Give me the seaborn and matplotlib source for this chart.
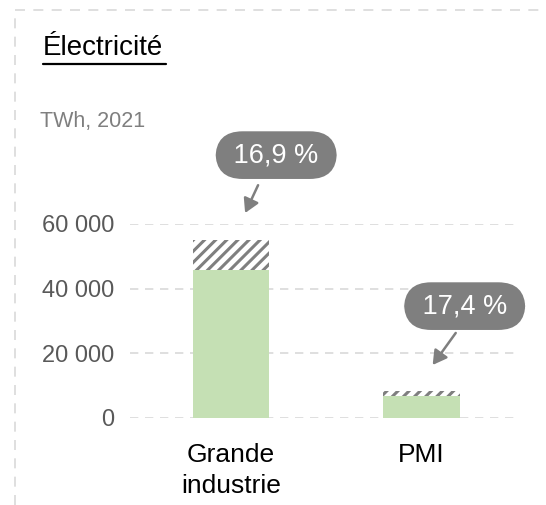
import matplotlib
matplotlib.use("Agg")
import matplotlib.pyplot as plt
import seaborn as sns
import pandas as pd
from matplotlib.lines import Line2D

# données (TWh, 2021)
categories = ["Grande\nindustrie", "PMI"]
totals = [55000, 8300]
savings = [9300, 1450]
shares = ["16,9 %", "17,4 %"]
yticks = [0, 20000, 40000, 60000]
ytick_labels = ["0", "20 000", "40 000", "60 000"]

base = [t - s for t, s in zip(totals, savings)]
df = pd.DataFrame({"cat": categories, "total": totals, "base": base})

sns.set_theme(style="white")
plt.rcParams["font.family"] = ["Liberation Sans", "DejaVu Sans"]
plt.rcParams["hatch.linewidth"] = 2.2

fig = plt.figure(figsize=(5.46, 5.05), dpi=100)
ax = fig.add_axes([130 / 546, 1 - 418 / 505, 385 / 546, 194 / 505])

# partie hachurée (total) puis partie verte
sns.barplot(data=df, x="cat", y="total", ax=ax, color="white", width=0.4,
            hatch="///", edgecolor="#7f7f7f", linewidth=0, zorder=2)
sns.barplot(data=df, x="cat", y="base", ax=ax, color="#c5e0b4", width=0.4,
            linewidth=0, saturation=1, zorder=3)

ax.set_xlim(-0.53, 1.49)
ax.set_ylim(0, 60000)
ax.set_yticks(yticks)
ax.set_yticklabels(ytick_labels, color="#595959", fontsize=17)
ax.tick_params(axis="y", length=0, pad=11)
ax.tick_params(axis="x", length=0, pad=18)
ax.set_xticklabels(categories, fontsize=19, color="black", linespacing=1.35)
ax.set_xlabel("")
ax.set_ylabel("")
for s in ax.spines.values():
    s.set_visible(False)
ax.yaxis.grid(True, color="#d9d9d9", linestyle=(0, (5, 4)), linewidth=1.2, zorder=0)
ax.set_axisbelow(True)

# bulles de pourcentage avec flèches
bubble_pos = [(0.237, 81300), (1.226, 34600)]
arrow_start = [(0.142, 72000), (1.179, 26300)]
arrow_end = [(0.074, 63400), (1.058, 16400)]
for i in range(2):
    ax.text(bubble_pos[i][0], bubble_pos[i][1], " " + shares[i] + " ", ha="center",
            va="center", fontsize=19.5, color="white", clip_on=False, zorder=5,
            bbox=dict(boxstyle="round,pad=0.4,rounding_size=1.0", fc="#7f7f7f", ec="none"))
    ax.annotate("", xy=arrow_end[i], xytext=arrow_start[i], annotation_clip=False,
                arrowprops=dict(arrowstyle="-|>,head_length=0.7,head_width=0.4",
                                color="#7f7f7f", lw=1.8, shrinkA=0, shrinkB=0))

# titre et unité
fig.text(43 / 546, 1 - 48 / 505, "Électricité", fontsize=20, color="black",
         va="center", ha="left")
fig.add_artist(Line2D([43 / 546, 166 / 546], [1 - 64 / 505, 1 - 64 / 505],
                      color="black", lw=1.6))
fig.text(40 / 546, 1 - 122 / 505, "TWh, 2021", fontsize=15.5, color="#7f7f7f",
         va="center", ha="left")

# bordure pointillée
fig.add_artist(Line2D([15 / 546, 1], [1 - 10 / 505, 1 - 10 / 505],
                      color="#d9d9d9", lw=1.2, linestyle=(0, (6, 5))))
fig.add_artist(Line2D([15 / 546, 15 / 546], [0, 1 - 10 / 505],
                      color="#d9d9d9", lw=1.2, linestyle=(0, (6, 5))))

fig.savefig("out.png", dpi=100)
